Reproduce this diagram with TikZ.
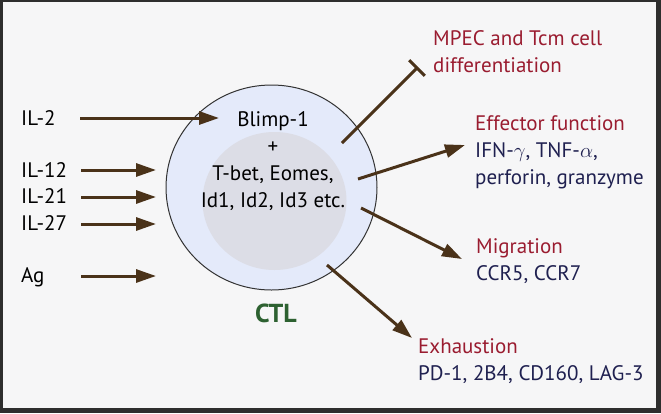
\documentclass[tikz,border=0pt]{standalone}
\usepackage{fontspec}
\setmainfont{PT Sans}
\usetikzlibrary{arrows.meta, positioning, shapes.geometric}

\definecolor{framegrey}{HTML}{2E2E2E}
\definecolor{paper}{HTML}{F6F6F7}
\definecolor{arrowbrown}{HTML}{4A3219}
\definecolor{headred}{HTML}{9A1C30}
\definecolor{listnavy}{HTML}{1F2050}
\definecolor{ctlgreen}{HTML}{2D6131}
\definecolor{ringblue}{HTML}{BCCBEE}
\definecolor{ringpale}{HTML}{E4EAFA}
\definecolor{nucleusgrey}{HTML}{DCDDE6}

\pgfdeclareradialshading{cellring}{\pgfpoint{0bp}{0bp}}{%
  color(0bp)=(ringpale); color(33bp)=(ringpale);
  color(45bp)=(ringblue!75!ringpale); color(50bp)=(ringblue)}
\pgfdeclareradialshading{nucleusfill}{\pgfpoint{0bp}{0bp}}{%
  color(0bp)=(nucleusgrey); color(44bp)=(nucleusgrey);
  color(50bp)=(nucleusgrey!45!white)}

\newcommand{\labelsize}{\fontsize{21pt}{27pt}\selectfont}

\tikzstyle{signal} = [% cytokine or antigen input
  anchor=base west,
  inner sep=0pt,
  font=\labelsize,
  text=black
  ]
\tikzstyle{outcome} = [% heading of a fate / function
  anchor=base west,
  inner sep=0pt,
  font=\labelsize,
  text=headred
  ]
\tikzstyle{markers} = [% molecules listed under a heading
  anchor=base west,
  inner sep=0pt,
  font=\labelsize,
  text=listnavy
  ]
\tikzstyle{arrow} = [% brown flow arrow
  line width=3pt,
  draw=arrowbrown,
  -{Triangle[length=20pt, width=13pt]}
  ]
\tikzstyle{block} = [% inhibition, flat bar end
  line width=3pt,
  draw=arrowbrown,
  -{Bar[width=22pt, line width=3pt]}
  ]

\begin{document}
\begin{tikzpicture}[x=1pt, y=-1pt]

%%% Frame
\fill[framegrey] (0,0) rectangle (661,413);
\fill[paper] (3,2) rectangle (656,408);
\useasboundingbox (0,0) rectangle (661,413);

%%% Cell
\node[ellipse, minimum width=211pt, minimum height=205pt, draw=black!80,
  line width=1pt, shading=cellring] (cell) at (271.5,187.5) {};
\node[ellipse, minimum width=144pt, minimum height=138pt,
  shading=nucleusfill] (nucleus) at (274.5,201) {};
\node[align=center, font=\labelsize, inner sep=0pt, anchor=base] (factors) at (273,207)
  {Blimp-1\\+\\T-bet, Eomes,\\Id1, Id2, Id3 etc.};
\node[anchor=base, inner sep=0pt, font=\fontsize{26pt}{28pt}\selectfont\bfseries,
  text=ctlgreen] (ctl) at (276,322) {CTL};

%%% Inputs
\node[signal] (il2) at (21,125) {IL-2};
\node[signal] (il12) at (21,177) {IL-12};
\node[signal] (il21) at (21,203) {IL-21};
\node[signal] (il27) at (21,230) {IL-27};
\node[signal] (ag) at (21,282) {Ag};

\coordinate (il2tail) at (80,118);
\coordinate (il2tip) at (219,118);
\coordinate (il12tail) at (81,170);
\coordinate (il12tip) at (156,170);
\coordinate (il21tail) at (81,197);
\coordinate (il21tip) at (156,197);
\coordinate (il27tail) at (81,224);
\coordinate (il27tip) at (156,224);
\coordinate (agtail) at (81,276);
\coordinate (agtip) at (156,276);

%%% Outcomes
\node[outcome] (mpec) at (433,45) {MPEC and Tcm cell};
\node[outcome] (diff) at ([yshift=-27pt]mpec.base west) {differentiation};

\node[outcome] (effector) at (475,130) {Effector function};
\node[markers] (cytokines) at ([yshift=-27pt]effector.base west) {IFN-$\gamma$, TNF-$\alpha$,};
\node[markers] (granules) at ([yshift=-27pt]cytokines.base west) {perforin, granzyme};

\node[outcome] (migration) at (476,253) {Migration};
\node[markers] (ccr) at ([yshift=-27pt]migration.base west) {CCR5, CCR7};

\node[outcome] (exhaustion) at (418,353) {Exhaustion};
\node[markers] (receptors) at ([yshift=-27pt]exhaustion.base west) {PD-1, 2B4, CD160, LAG-3};

\coordinate (mpectail) at (342,143);
\coordinate (mpectip) at (418,67);
\coordinate (efftail) at (358,179);
\coordinate (efftip) at (465,145);
\coordinate (migtail) at (361,208);
\coordinate (migtip) at (462,259);
\coordinate (exhtail) at (327,265);
\coordinate (exhtip) at (412,338);

%%% Arrows
\draw[arrow] (il2tail) -- (il2tip);
\draw[arrow] (il12tail) -- (il12tip);
\draw[arrow] (il21tail) -- (il21tip);
\draw[arrow] (il27tail) -- (il27tip);
\draw[arrow] (agtail) -- (agtip);

\draw[block] (mpectail) -- (mpectip);
\draw[arrow] (efftail) -- (efftip);
\draw[arrow] (migtail) -- (migtip);
\draw[arrow] (exhtail) -- (exhtip);

\end{tikzpicture}
\end{document}
